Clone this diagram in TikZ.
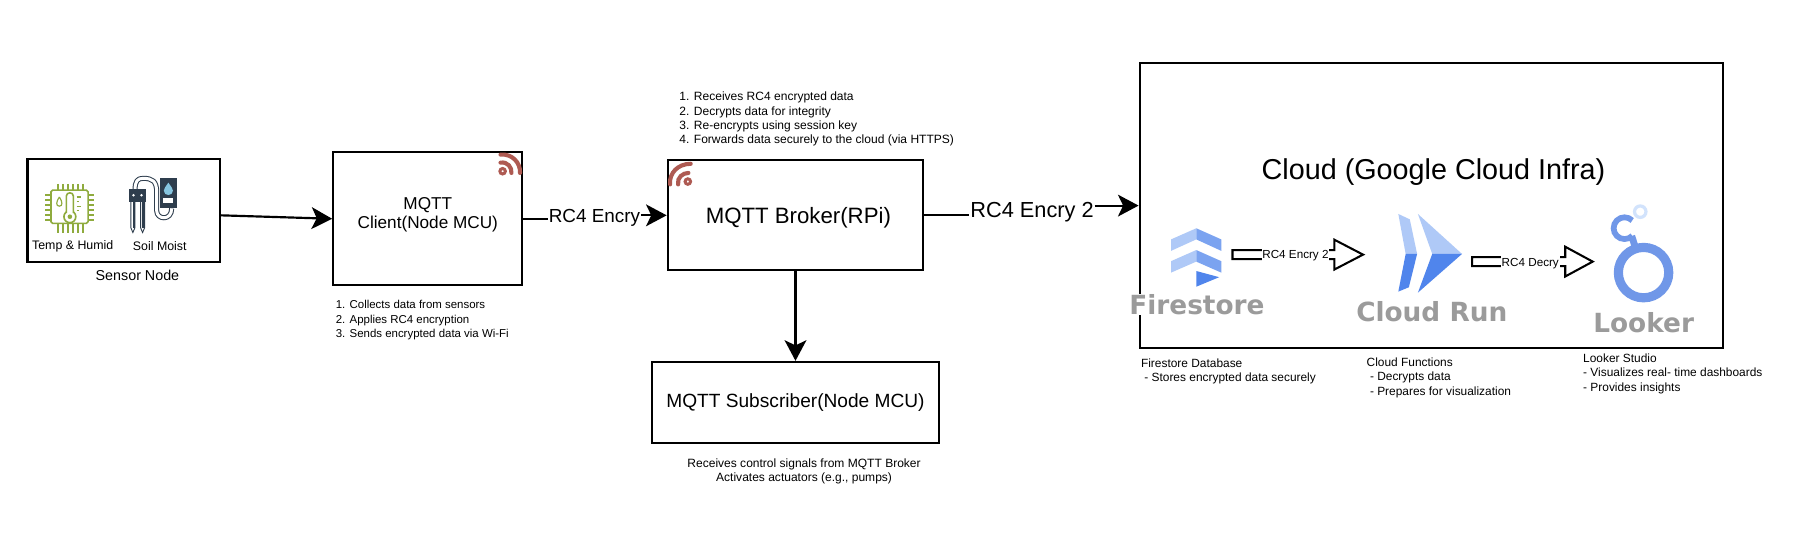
\documentclass[tikz,border=0pt]{standalone}
\usepackage{fontspec}
\setmainfont{Liberation Sans}
\newfontfamily\logofont{DejaVu Sans}
\usetikzlibrary{arrows.meta}
\definecolor{rsscol}{HTML}{AE5A52}
\definecolor{chipgreen}{HTML}{8FAB3E}
\definecolor{slatecol}{HTML}{2E3D4D}
\definecolor{dropcol}{HTML}{86C5E0}
\definecolor{gblue}{HTML}{5085EC}
\definecolor{gmid}{HTML}{7BA3F0}
\definecolor{glight}{HTML}{AFC9F7}
\definecolor{gpale}{HTML}{D2E3FC}
\definecolor{lookblue}{HTML}{7097E8}
\definecolor{logogray}{HTML}{9B9B9B}
\tikzset{
  x=1pt,y=-1pt,
  boxnode/.style={draw=black,line width=1.9pt,fill=white,inner sep=0pt,align=center,font=\fontsize{#1}{#1}\selectfont},
  boxnode/.default=15,
  plainline/.style={line width=1.9pt},
  conn/.style={line width=1.9pt,-{Stealth[length=18pt,width=19pt,inset=4.5pt]}},
  edgelabel/.style={fill=white,inner xsep=0.6pt,inner ysep=1pt,font=\fontsize{#1}{#1}\selectfont},
  note/.style={inner sep=0pt,align=left,anchor=north west,font=\fontsize{#1}{12.6}\selectfont},
  note/.default=10.4,
  iconlabel/.style={inner sep=0pt,font=\fontsize{10.8}{12}\selectfont},
  logotext/.style={inner sep=0.5pt,text=logogray,font=\logofont\bfseries\fontsize{23}{23}\selectfont},
  blockarrow/.style={draw=black,line width=1.8pt,fill=white,line join=miter},
  rssarc/.style={draw=rsscol,line width=3.6pt,line cap=round},
  chipline/.style={draw=chipgreen,line width=1.4pt},
}
\begin{document}
\begin{tikzpicture}
\useasboundingbox[fill=white] (0,0) rectangle (1568,468);

% main boxes
\node[boxnode,minimum width=168pt,minimum height=90pt] (sensor) at (108,184) {};
\node[boxnode,minimum width=165pt,minimum height=116pt] (client) at (373.5,191) {};
\node[inner sep=0pt,align=center,font=\fontsize{15}{15}\selectfont] (clienttext) at (373.5,187.5) {MQTT\\[2pt]Client(Node MCU)};
\node[boxnode=19.4,minimum width=223pt,minimum height=96pt] (broker) at (694.5,188) {};
\node[inner sep=0pt,font=\fontsize{19.4}{19.4}\selectfont] (brokertext) at (697,190) {MQTT Broker(RPi)};
\node[boxnode=16.7,minimum width=251pt,minimum height=71pt] (subscriber) at (694.5,351.5) {MQTT Subscriber(Node MCU)};
\node[boxnode,minimum width=509pt,minimum height=249pt] (cloud) at (1249.5,179.5) {};
\node[inner sep=0pt,font=\fontsize{25.1}{25.1}\selectfont] (cloudtitle) at (1251.5,150) {Cloud (Google Cloud Infra)};

% edge labels
\node[edgelabel=16.5] (enc1) at (519,190) {RC4 Encry};
\node[edgelabel=19] (enc2) at (901,185) {RC4 Encry 2};

% connectors
\draw[conn] (sensor.east) ++(0,4) coordinate (sensorout) -- (client.west);
\draw[plainline] (client.east) -- (enc1.west |- client.east);
\draw[conn] (enc1.east |- broker.west) -- (broker.west);
\draw[plainline] (broker.east) -- (enc2.west |- broker.east);
\draw[conn] (enc2.east |- cloud.west) -- (cloud.west);
\draw[conn] (broker.south) -- (subscriber.north);

% sensor labels
\node[iconlabel] (templabel) at (63.5,215) {Temp \& Humid};
\node[iconlabel] (soillabel) at (139.5,215) {Soil Moist};
\node[inner sep=0pt,font=\fontsize{12.5}{14}\selectfont] (sensorlabel) at (120,240) {Sensor Node};

% chip icon
\draw[chipline,rounded corners=1.5pt] (44.5,166) rectangle (77,195);
\foreach \p in {50.5,54.9,59.3,63.7,68.1,72.5}{
  \draw[chipline] (\p,160.5) -- (\p,166);
  \draw[chipline] (\p,195) -- (\p,203.5);
}
\foreach \p in {170.3,174.7,179.1,183.5,187.9,192.3}{
  \draw[chipline] (39.5,\p) -- (44.5,\p);
  \draw[chipline] (77,\p) -- (82,\p);
}
\draw[chipline] (61,189.2) circle[radius=5.2];
\draw[chipline,fill=white] (58,186) -- (58,171) .. controls (58,167.5) and (64,167.5) .. (64,171) -- (64,186);
\fill[chipgreen] (61,189.2) circle[radius=2];
\draw[chipline,line width=1pt] (51.8,172) .. controls (49,176) and (48.6,180) .. (51.8,180) .. controls (55,180) and (54.6,176) .. (51.8,172);
\foreach \p/\q in {172/71,176/69,180/71,184/69}{\draw[chipline,line width=1pt] (67,\p) -- (\q,\p);}

% soil moisture icon
\draw[slatecol,line width=4.4pt,line join=round] (117.9,166) .. controls (117.9,158) and (120,155.7) .. (125,155.7) .. controls (133,155.7) and (136.8,158) .. (136.8,168) -- (136.8,184) .. controls (136.8,192) and (149.9,193) .. (149.9,182);
\draw[white,line width=2.6pt,line join=round] (117.9,166) .. controls (117.9,158) and (120,155.7) .. (125,155.7) .. controls (133,155.7) and (136.8,158) .. (136.8,168) -- (136.8,184) .. controls (136.8,192) and (149.9,193) .. (149.9,182);
\foreach \p in {116,124.5}{
  \draw[slatecol,line width=0.8pt,fill=white] (\p-1.7,175) -- (\p-1.7,199) -- (\p,203) -- (\p+1.7,199) -- (\p+1.7,175) -- cycle;
  \fill[slatecol] (\p-0.2,176) rectangle (\p+1.6,199);
}
\fill[slatecol] (112.6,165.3) rectangle (127.5,176);
\fill[white] (116.5,170.5) circle[radius=1.2] (123.5,170.5) circle[radius=1.2];
\fill[slatecol] (139.7,155) rectangle (154.4,182);
\fill[dropcol] (147,159.5) .. controls (144.5,163) and (143,165) .. (143,166.5) .. controls (143,171.5) and (151,171.5) .. (151,166.5) .. controls (151,165) and (149.5,163) .. (147,159.5) -- cycle;
\fill[white] (142.6,172.8) rectangle (151.3,177.6);

% rss icons
\draw[rsscol,line width=2.6pt,fill=white] (438.8,149.5) circle[radius=2.4];
\draw[rssarc] (437,142) .. controls (443,141) and (447,146) .. (446.5,151);
\draw[rssarc] (437,135) .. controls (447,134) and (454.5,142) .. (454,151);
\draw[white,line width=0.5pt] (437,138.5) .. controls (445,138) and (451,144) .. (450.5,151);

\draw[rsscol,line width=2.6pt,fill=white] (600.5,158.5) circle[radius=2.4];
\draw[rssarc] (592,161) .. controls (591,155) and (596,151) .. (601,151);
\draw[rssarc] (585,161) .. controls (584,151) and (592,143) .. (603,143);
\draw[white,line width=0.5pt] (588.5,161) .. controls (588,153) and (594,147) .. (602,147);

% firestore icon
\fill[glight] (1022.4,209) -- (1044.4,199.3) -- (1044.4,209) -- (1022.4,219) -- cycle;
\fill[gmid] (1044.4,199.3) -- (1066.2,209) -- (1066.2,219) -- (1044.4,209) -- cycle;
\fill[glight] (1022.4,228) -- (1044.4,218.3) -- (1044.4,228.4) -- (1022.4,238) -- cycle;
\fill[gmid] (1044.4,218.3) -- (1066.2,228) -- (1066.2,238) -- (1044.4,228.4) -- cycle;
\fill[gblue] (1044.4,236.6) -- (1064.4,242) -- (1044.4,250.3) -- cycle;
\node[logotext,fill=white] (firestorelabel) at (1045,266) {Firestore};

% cloud run icon
\fill[glight] (1220.8,186.8) -- (1230.8,191.5) -- (1237.2,221.7) -- (1227.2,221.7) -- cycle;
\fill[gblue] (1227.2,221.7) -- (1237.2,221.7) -- (1230,250.8) -- (1220.8,254.6) -- cycle;
\fill[glight] (1237.9,186.8) -- (1276.4,221.7) -- (1250.4,221.7) -- cycle;
\fill[gblue] (1250.4,221.7) -- (1276.4,221.7) -- (1237.9,255.5) -- cycle;
\node[logotext] (cloudrunlabel) at (1250,272) {Cloud Run};

% looker icon
\draw[lookblue,line width=8pt] (1434.9,238) circle[radius=22];
\draw[lookblue,line width=6pt] (1424.5,206) -- (1428.5,218.3);
\draw[lookblue,line width=5pt] (1425,192.5) arc[start angle=-45,end angle=-315,radius=9.5];
\draw[gpale,line width=2.8pt] (1432,184.8) circle[radius=5];
\node[logotext] (lookerlabel) at (1435,282) {Looker};

% block arrows
\coordinate (fsout) at (1076,222.3);
\coordinate (crin) at (1190,222.3);
\coordinate (crout) at (1285.3,228.4);
\coordinate (lkin) at (1390.5,228.4);
\draw[blockarrow] (crin) -- ++(-25,-13) -- ++(0,9) -- (fsout |- 0,218.3) -- (fsout |- 0,226.3) -- (1165,226.3) -- (1165,235.3) -- cycle;
\draw[blockarrow] (lkin) -- ++(-24,-13) -- ++(0,9) -- (crout |- 0,224.4) -- (crout |- 0,232.4) -- (1366.5,232.4) -- (1366.5,241.4) -- cycle;
\node[edgelabel=10.2,inner ysep=3pt] (enc3) at (1131,223.5) {RC4 Encry 2};
\node[edgelabel=10.2,inner ysep=3pt] (dec) at (1336,230) {RC4 Decry};

% notes
\node[note=10] (clientnote) at (293,262) {1. Collects data from sensors\\2. Applies RC4 encryption\\3. Sends encrypted data via Wi-Fi};
\node[note=10.5] (brokernote) at (593,80) {1. Receives RC4 encrypted data\\2. Decrypts data for integrity\\3. Re-encrypts using session key\\4. Forwards data securely to the cloud (via HTTPS)};
\node[note=10.5,anchor=north,align=center] (subnote) at (702,400) {Receives control signals from MQTT Broker\\Activates actuators (e.g., pumps)};
\node[note] (fsnote) at (996,313) {Firestore Database\\\ - Stores encrypted data securely};
\node[note] (cfnote) at (1193,312) {Cloud Functions\\\ - Decrypts data\\\ - Prepares for visualization};
\node[note] (lsnote) at (1382,308.5) {Looker Studio\\- Visualizes real- time dashboards\\- Provides insights};
\end{tikzpicture}
\end{document}
